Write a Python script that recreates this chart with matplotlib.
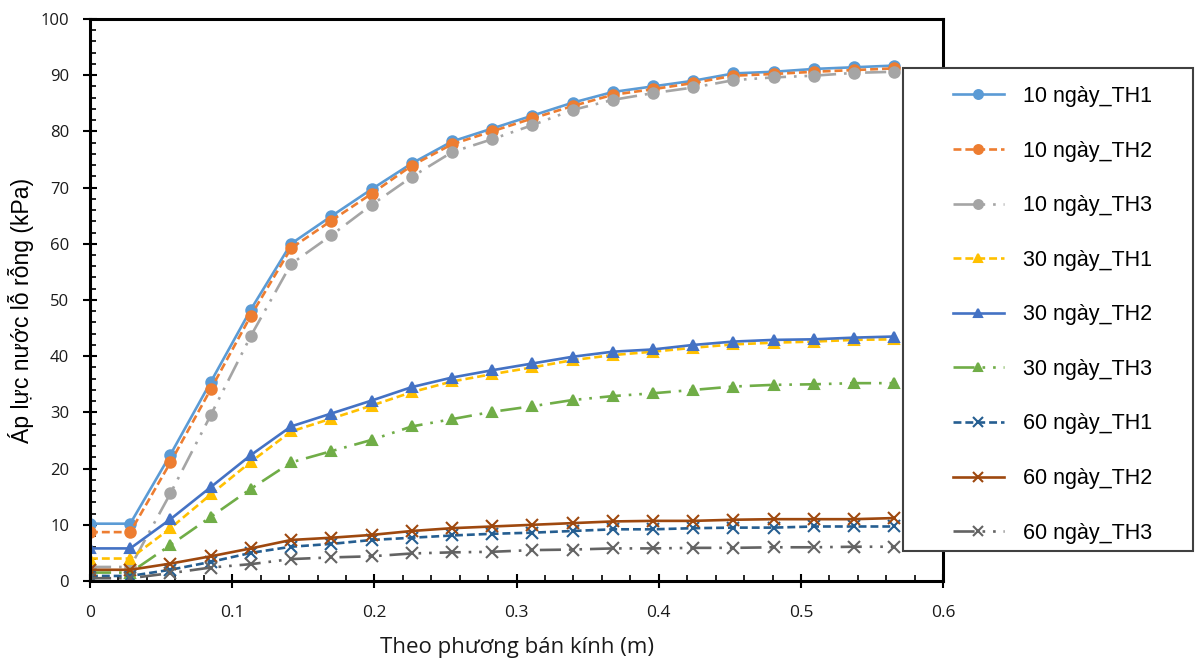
import matplotlib
matplotlib.use("Agg")
import matplotlib.pyplot as plt
from matplotlib.patches import Rectangle
from matplotlib.ticker import MultipleLocator

# radial distance (m)
r = [0, 0.0283, 0.0566, 0.0849, 0.1131, 0.1414, 0.1697, 0.198, 0.2263, 0.2546, 0.2828,
     0.3111, 0.3394, 0.3677, 0.396, 0.4243, 0.4525, 0.4808, 0.5091, 0.5374, 0.5657]

# pore water pressure (kPa)
d10_th1 = [10.2, 10.2, 22.5, 35.4, 48.3, 60.0, 64.9, 69.7, 74.3, 78.2, 80.5,
           82.8, 85.1, 87.0, 88.0, 89.0, 90.3, 90.6, 91.1, 91.4, 91.7]
d10_th2 = [8.7, 8.7, 21.1, 34.1, 47.2, 59.2, 64.1, 68.9, 73.9, 77.7, 80.0,
           82.3, 84.5, 86.5, 87.5, 88.6, 89.9, 90.2, 90.6, 90.9, 91.2]
d10_th3 = [2.5, 2.5, 15.6, 29.5, 43.6, 56.4, 61.5, 66.9, 71.9, 76.3, 78.6,
           81.1, 83.8, 85.6, 86.8, 87.8, 89.1, 89.6, 89.9, 90.4, 90.6]
d30_th1 = [4.0, 4.0, 9.4, 15.4, 21.2, 26.6, 28.9, 31.2, 33.6, 35.5, 36.8,
           38.0, 39.3, 40.2, 40.8, 41.5, 42.1, 42.4, 42.6, 42.9, 43.0]
d30_th2 = [5.8, 5.8, 11.0, 16.7, 22.4, 27.5, 29.8, 32.1, 34.5, 36.2, 37.5,
           38.7, 39.9, 40.8, 41.2, 42.0, 42.6, 42.9, 43.0, 43.3, 43.5]
d30_th3 = [1.5, 1.5, 6.4, 11.4, 16.4, 21.1, 23.1, 25.1, 27.5, 28.8, 30.1,
           31.1, 32.2, 32.9, 33.4, 34.0, 34.6, 34.9, 35.0, 35.2, 35.2]
d60_th1 = [0.9, 0.9, 2.0, 3.4, 5.0, 6.1, 6.6, 7.3, 7.7, 8.1, 8.4,
           8.6, 8.9, 9.2, 9.2, 9.4, 9.5, 9.5, 9.7, 9.7, 9.7]
d60_th2 = [2.0, 2.0, 3.1, 4.4, 5.8, 7.3, 7.7, 8.2, 8.9, 9.4, 9.7,
           10.0, 10.3, 10.6, 10.7, 10.7, 10.9, 11.0, 11.0, 11.0, 11.2]
d60_th3 = [0.5, 0.5, 1.4, 2.4, 3.0, 3.9, 4.2, 4.4, 4.9, 5.1, 5.2,
           5.5, 5.6, 5.8, 5.8, 5.9, 5.9, 6.0, 6.0, 6.1, 6.1]

labels = ["10 ngày_TH1", "10 ngày_TH2", "10 ngày_TH3",
          "30 ngày_TH1", "30 ngày_TH2", "30 ngày_TH3",
          "60 ngày_TH1", "60 ngày_TH2", "60 ngày_TH3"]
series = [d10_th1, d10_th2, d10_th3, d30_th1, d30_th2, d30_th3, d60_th1, d60_th2, d60_th3]
colors = ["#5B9BD5", "#ED7D31", "#A5A5A5", "#FFC000", "#4472C4", "#70AD47",
          "#255E91", "#9E480E", "#636363"]
markers = ["o", "o", "o", "^", "^", "^", "x", "x", "x"]

solid = "-"
dashed = (0, (3, 1.5))
dashdotdot = (0, (8, 3, 1, 3, 1, 3))
styles = [solid, dashed, dashdotdot, dashed, solid, dashdotdot, dashed, solid, dashdotdot]

fig = plt.figure(figsize=(11.95, 6.66), dpi=100)
ax = fig.add_axes([0.0753, 0.1276, 0.714, 0.844])

for y, lab, c, m, ls in zip(series, labels, colors, markers, styles):
    ms = 7.5 if m != "x" else 9
    ax.plot(r, y, color=c, marker=m, ls=ls, lw=1.9, ms=ms, mew=1.5, label=lab)

ax.set_xlim(0, 0.6)
ax.set_ylim(0, 100)
ax.set_xticks([0, 0.1, 0.2, 0.3, 0.4, 0.5, 0.6])
ax.set_xticklabels(["0", "0.1", "0.2", "0.3", "0.4", "0.5", "0.6"])
ax.xaxis.set_minor_locator(MultipleLocator(0.02))
ax.yaxis.set_major_locator(MultipleLocator(10))
ax.yaxis.set_minor_locator(MultipleLocator(2))

ax.tick_params(which="major", direction="inout", length=10, width=1.5,
               top=False, right=False)
ax.tick_params(which="minor", direction="in", length=4, width=1.2, top=False, right=False)
ax.tick_params(axis="x", pad=12, labelsize=12.5)
ax.tick_params(axis="y", pad=10, labelsize=12)
for lbl in ax.get_xticklabels() + ax.get_yticklabels():
    lbl.set_fontfamily("Open Sans")
    lbl.set_color("#1a1a1a")

for s in ax.spines.values():
    s.set_linewidth(2.2)
    s.set_color("black")

ax.set_xlabel("Theo phương bán kính (m)", fontsize=16, family="Open Sans",
              labelpad=12, color="#1a1a1a")
ax.set_ylabel("Áp lực nước lỗ rỗng (kPa)", fontsize=16.6, family="Liberation Sans")
ax.yaxis.set_label_coords(-0.066, 0.482)

# legend frame drawn separately so the entries can sit further right
fig.patches.append(Rectangle((903 / 1195, 1 - 551 / 666), 290 / 1195, 483 / 666,
                             transform=fig.transFigure, facecolor="white",
                             edgecolor="#404040", linewidth=1.5, zorder=3))
leg = fig.legend(loc="upper left", bbox_to_anchor=(953 / 1195, 1 - 86 / 666),
                 bbox_transform=fig.transFigure,
                 prop={"family": "Liberation Sans", "size": 15.5},
                 handlelength=2.35, handletextpad=0.88, labelspacing=1.56,
                 borderpad=0, borderaxespad=0, frameon=False, markerscale=0.85)
leg.set_zorder(4)

fig.savefig("out.png", dpi=100)
